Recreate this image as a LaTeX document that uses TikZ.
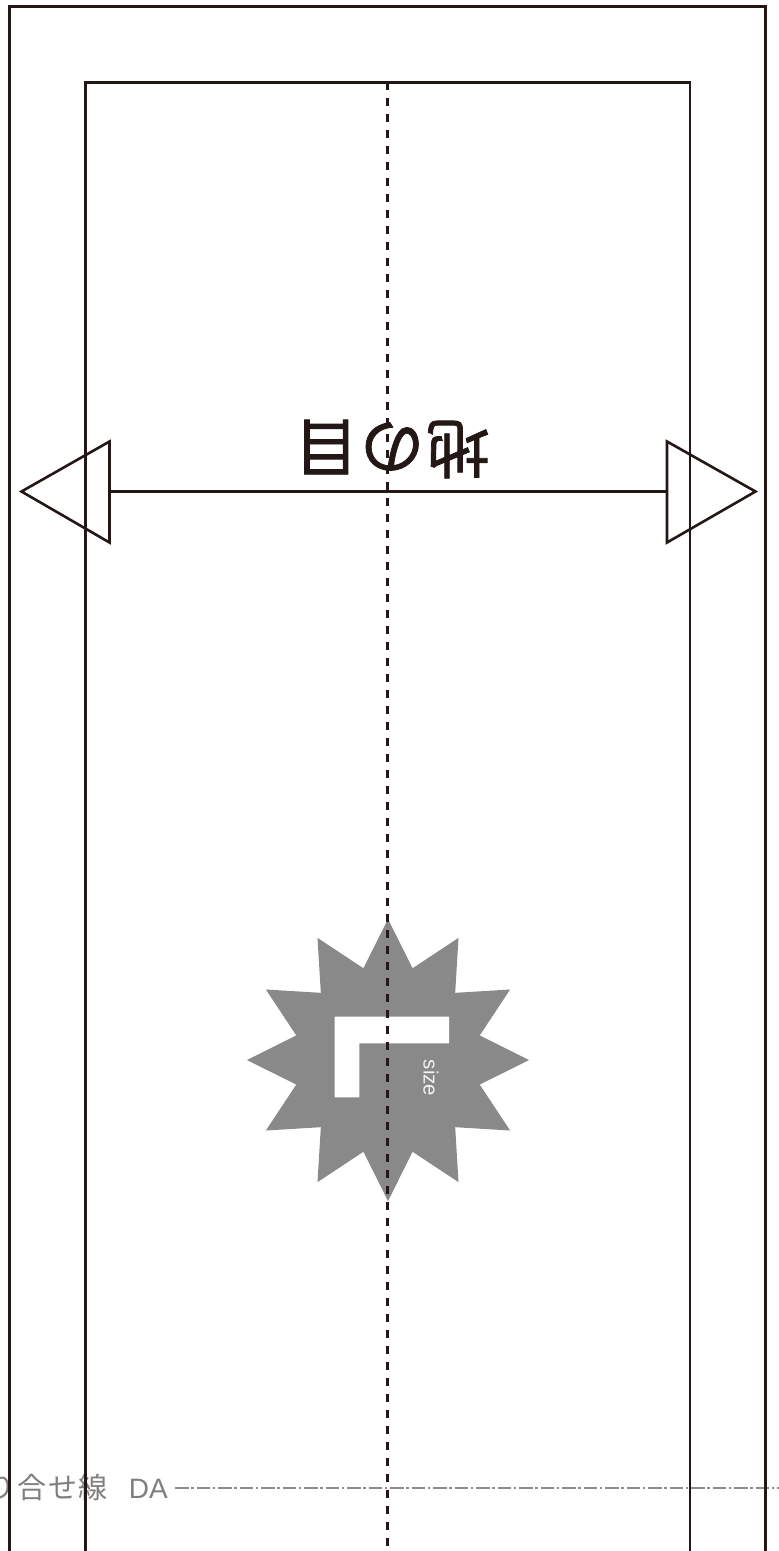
\documentclass[tikz,border=0pt]{standalone}
\usepackage{fontspec}
\setmainfont{Liberation Sans}
\newfontfamily\cjk{Noto Sans CJK JP}
\definecolor{ink}{HTML}{231815}
\definecolor{starg}{HTML}{898989}
\definecolor{lineg}{HTML}{8C8C8C}
\definecolor{textg}{HTML}{7F7F7F}
\tikzset{
  x=1pt,y=-1pt,
  frame/.style={draw=ink,line width=2.6pt,line join=miter},
  centerline/.style={draw=ink,line width=2.6pt,dash pattern=on 8pt off 8pt},
  cutline/.style={draw=lineg,line width=2.2pt,dash pattern=on 13.5pt off 2.8pt on 2.4pt off 2.8pt},
}
\begin{document}
\begin{tikzpicture}
\useasboundingbox (0,0) rectangle (779,1551);
\fill[white] (0,0) rectangle (779,1551);
% cut label and line
\node[anchor=base east,inner sep=0pt,text=textg,font=\fontsize{28}{28}\selectfont] (cutlabel) at (168,1498) {{\cjk\fontsize{29}{29}\selectfont\addfontfeature{LetterSpace=6}切り合せ線}\hspace{21pt}DA};
\coordinate (cutL) at (175,1488.3);
\coordinate (cutR) at (779,1488.3);
\draw[cutline] (cutL) -- (cutR);
% star
\fill[starg,shift={(388,1060)}] (90:141)
  \foreach \a in {0,...,11}{ -- ({105+30*\a}:95) -- ({120+30*\a}:141) } -- cycle;
\fill[white] (334.7,1016.7) -- (449,1016.7) -- (449,1043.3) -- (359.3,1043.3) -- (359.3,1097.3) -- (334.7,1097.3) -- cycle;
\node[rotate=-90,inner sep=0pt,text=white!90!starg,font=\fontsize{20.5}{21}\selectfont] (sizelabel) at (431,1078) {size};
% frames
\draw[frame] (9.5,1551) -- (9.5,6.5) -- (765.5,6.5) -- (765.5,1551);
\draw[frame] (85.5,1551) -- (85.5,82.5) -- (690,82.5) -- (690,1551);
% fold arrow
\coordinate (baseL) at (109.5,491.5);
\coordinate (baseR) at (667,491.5);
\draw[frame] (baseL) -- (baseR);
\draw[frame] (109.5,441.5) -- (21.5,491.5) -- (109.5,542.5) -- cycle;
\draw[frame] (667,441.5) -- (755.5,491.5) -- (667,542.5) -- cycle;
\node[rotate=180,inner sep=0pt,text=ink,font=\cjk\fontsize{64}{64}\selectfont] (grain) at (392,449) {\addfontfeature{FakeBold=1.2,LetterSpace=3}地の目};
% centre line
\coordinate (centreT) at (387.7,82);
\coordinate (centreB) at (387.7,1551);
\draw[centerline] (centreT) -- (centreB);
\end{tikzpicture}
\end{document}
